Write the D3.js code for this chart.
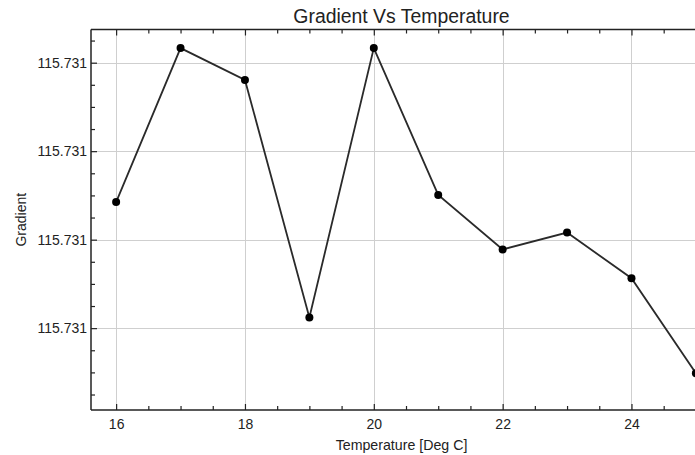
<!DOCTYPE html>
<html>
<head>
<meta charset="utf-8">
<script src="https://cdn.jsdelivr.net/npm/d3@7/dist/d3.min.js"></script>
<style>
  html, body { margin: 0; padding: 0; background: #fff; }
  svg { display: block; font-family: "Liberation Sans", Arial, sans-serif; }
</style>
</head>
<body>
<svg id="chart" width="695" height="455"></svg>
<script>
// Measured gradient per temperature step
const temperatures = [16, 17, 18, 19, 20, 21, 22, 23, 24, 25];
const gradients = [
  115.730885, 115.731233, 115.731161, 115.730624, 115.731233,
  115.730901, 115.730778, 115.730816, 115.730713, 115.730498
];

// Axis ticks
const xMajorTicks = [16, 18, 20, 22, 24];
const yMajorTicks = [115.7306, 115.7308, 115.7310, 115.7312];

const chartTitle = "Gradient Vs Temperature";
const xTitle = "Temperature [Deg C]";
const yTitle = "Gradient";

const W = 695, H = 455;
const plot = { left: 91, top: 29.5, right: 712, bottom: 410 };

const svg = d3.select("#chart");

const x = d3.scaleLinear().domain([15.61, 25.25]).range([plot.left, plot.right]);
const y = d3.scaleLinear().domain([115.730415, 115.731275]).range([plot.bottom, plot.top]);

// Minor ticks: every 0.5 on x, every 0.00005 on y
const xMinorTicks = d3.range(31, 51).map(i => i / 2).filter(v => v >= 15.61 && v <= 25.25 && !xMajorTicks.includes(v));
const yMinorTicks = d3.range(0, 20).map(i => 115.73045 + i * 0.00005)
  .filter(v => v >= 115.730415 && v <= 115.731275)
  .filter(v => !yMajorTicks.some(t => Math.abs(t - v) < 1e-9));

const fmt = d3.format(".3f");
const textColor = "#222";

// Grid
const grid = svg.append("g").attr("stroke", "#cfcfcf").attr("stroke-width", 1);
grid.selectAll("line.v").data(xMajorTicks).join("line")
  .attr("x1", d => Math.round(x(d)) + 0.5).attr("x2", d => Math.round(x(d)) + 0.5)
  .attr("y1", plot.top).attr("y2", plot.bottom);
grid.selectAll("line.h").data(yMajorTicks).join("line")
  .attr("y1", d => Math.round(y(d)) + 0.5).attr("y2", d => Math.round(y(d)) + 0.5)
  .attr("x1", plot.left).attr("x2", plot.right);

// Axes with inward ticks
function styleAxis(g) {
  g.select(".domain").remove();
  g.selectAll(".tick line").attr("stroke", "#222").attr("stroke-width", 1.2);
  g.selectAll(".tick text").attr("fill", textColor).style("font-size", "14px")
    .style("font-family", "'Liberation Sans', Arial, sans-serif");
}

// Bottom
svg.append("g").attr("transform", `translate(0,${plot.bottom})`)
  .call(d3.axisBottom(x).tickValues(xMajorTicks).tickSize(-6).tickPadding(9).tickFormat(d3.format("d")))
  .call(styleAxis);
svg.append("g").attr("transform", `translate(0,${plot.bottom})`)
  .call(d3.axisBottom(x).tickValues(xMinorTicks).tickSize(-4).tickFormat(""))
  .call(styleAxis);

// Top
svg.append("g").attr("transform", `translate(0,${plot.top})`)
  .call(d3.axisTop(x).tickValues(xMajorTicks).tickSize(-6).tickFormat(""))
  .call(styleAxis);
svg.append("g").attr("transform", `translate(0,${plot.top})`)
  .call(d3.axisTop(x).tickValues(xMinorTicks).tickSize(-4).tickFormat(""))
  .call(styleAxis);

// Left
svg.append("g").attr("transform", `translate(${plot.left},0)`)
  .call(d3.axisLeft(y).tickValues(yMajorTicks).tickSize(-6).tickPadding(4).tickFormat(fmt))
  .call(styleAxis);
svg.append("g").attr("transform", `translate(${plot.left},0)`)
  .call(d3.axisLeft(y).tickValues(yMinorTicks).tickSize(-4).tickFormat(""))
  .call(styleAxis);

// Frame lines
svg.append("line").attr("x1", plot.left).attr("x2", plot.right)
  .attr("y1", plot.bottom).attr("y2", plot.bottom).attr("stroke", "#222").attr("stroke-width", 1.5);
svg.append("line").attr("x1", plot.left).attr("x2", plot.right)
  .attr("y1", plot.top).attr("y2", plot.top).attr("stroke", "#222").attr("stroke-width", 1.5);
svg.append("line").attr("x1", plot.left).attr("x2", plot.left)
  .attr("y1", plot.top).attr("y2", plot.bottom).attr("stroke", "#222").attr("stroke-width", 1.5);

// Series
const pts = temperatures.map((t, i) => [t, gradients[i]]);
svg.append("path").datum(pts)
  .attr("fill", "none").attr("stroke", "#2a2a2a").attr("stroke-width", 1.8)
  .attr("d", d3.line().x(d => x(d[0])).y(d => y(d[1])));
svg.append("g").selectAll("circle").data(pts).join("circle")
  .attr("cx", d => x(d[0])).attr("cy", d => y(d[1])).attr("r", 4).attr("fill", "#000");

// Titles
svg.append("text").attr("x", (plot.left + plot.right) / 2).attr("y", 22.5)
  .attr("text-anchor", "middle").attr("fill", textColor).style("font-size", "19.4px")
  .text(chartTitle);
svg.append("text").attr("x", (plot.left + plot.right) / 2).attr("y", 450)
  .attr("text-anchor", "middle").attr("fill", textColor).style("font-size", "14.2px")
  .text(xTitle);
svg.append("text").attr("transform", `translate(25.5,${(plot.top + plot.bottom) / 2}) rotate(-90)`)
  .attr("text-anchor", "middle").attr("fill", textColor).style("font-size", "14px")
  .text(yTitle);
</script>
</body>
</html>
